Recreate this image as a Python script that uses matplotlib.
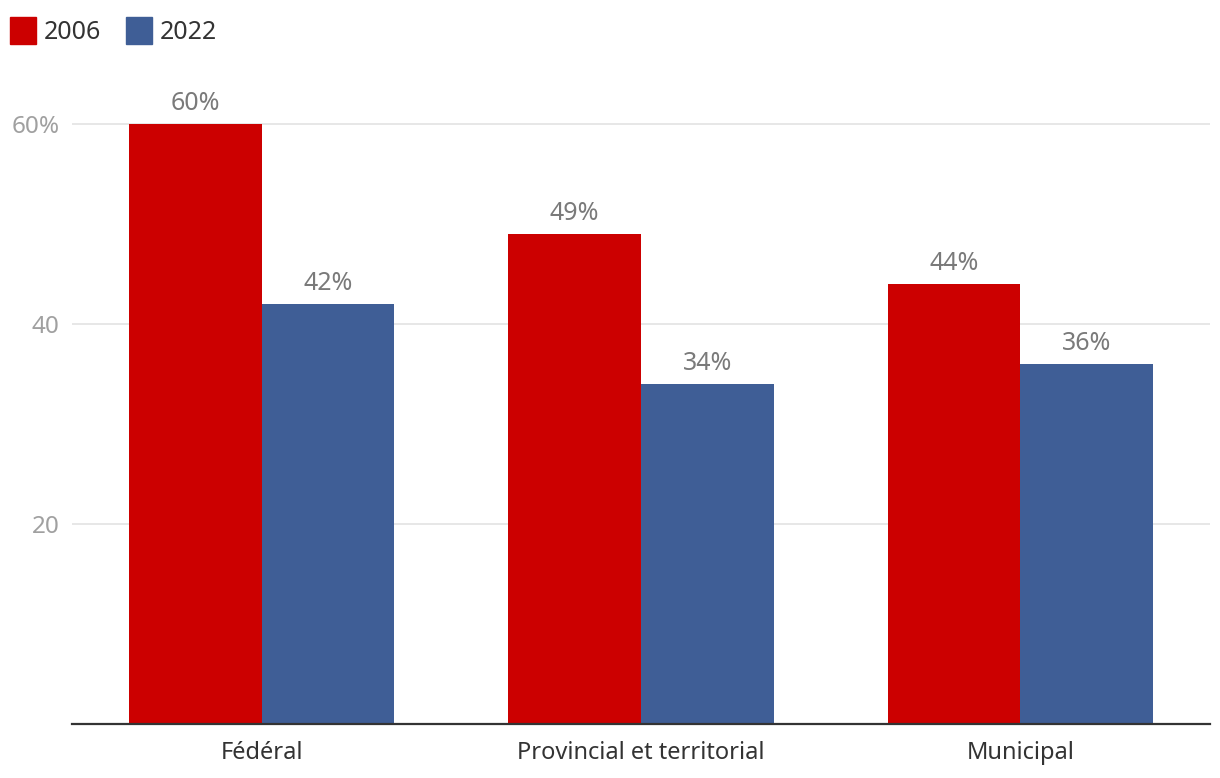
import numpy as np
import matplotlib
matplotlib.use('Agg')
from matplotlib import pyplot as plt
from matplotlib.patches import Patch

plt.rcParams['font.family'] = ['Noto Sans', 'DejaVu Sans']

categories = ['Fédéral', 'Provincial et territorial', 'Municipal']
series_names = ['2006', '2022']
values_2006 = [60, 49, 44]
values_2022 = [42, 34, 36]
yticks = [20, 40, 60]
ytick_labels = ['20', '40', '60%']

red = '#cc0000'
blue = '#3f5e96'

W, H = 1220, 778
fig = plt.figure(figsize=(W / 100, H / 100), dpi=100)
# axes: x 72..1210 px, y baseline 724, top 100
ax = fig.add_axes([72 / W, (H - 724) / H, (1210 - 72) / W, (724 - 100) / H])

x = np.arange(len(categories))
w = 0.35
b1 = ax.bar(x - w / 2, values_2006, w, color=red, zorder=2)
b2 = ax.bar(x + w / 2, values_2022, w, color=blue, zorder=2)

for bars, vals in ((b1, values_2006), (b2, values_2022)):
    for r, v in zip(bars, vals):
        ax.annotate(f'{v}%', (r.get_x() + r.get_width() / 2, v),
                    xytext=(0, 5.5), textcoords='offset points',
                    ha='center', va='bottom', fontsize=18, color='#7a7a7a')

ax.set_xlim(-0.5, 2.5)
ax.set_ylim(0, 62.4)
ax.set_yticks(yticks)
ax.set_yticklabels(ytick_labels)
ax.set_xticks(x)
ax.set_xticklabels(categories)
ax.yaxis.grid(True, color='#e3e3e3', linewidth=1.2, zorder=0)
ax.tick_params(axis='y', length=0, pad=9, labelsize=17.5, labelcolor='#a0a0a0')
ax.tick_params(axis='x', length=0, pad=12, labelsize=17, labelcolor='#333333')
for s in ['top', 'right', 'left']:
    ax.spines[s].set_visible(False)
ax.spines['bottom'].set_color('#333333')
ax.spines['bottom'].set_linewidth(1.6)

handles = [Patch(color=red), Patch(color=blue)]
fig.legend(handles, series_names, loc='upper left', bbox_to_anchor=(5 / W, 1 - 12 / H),
           ncol=2, frameon=False, fontsize=18, handlelength=1.05, handleheight=1.3,
           handletextpad=0.3, columnspacing=1.0, labelcolor='#333333',
           borderaxespad=0, borderpad=0.2)

fig.savefig('out.png', dpi=100)
